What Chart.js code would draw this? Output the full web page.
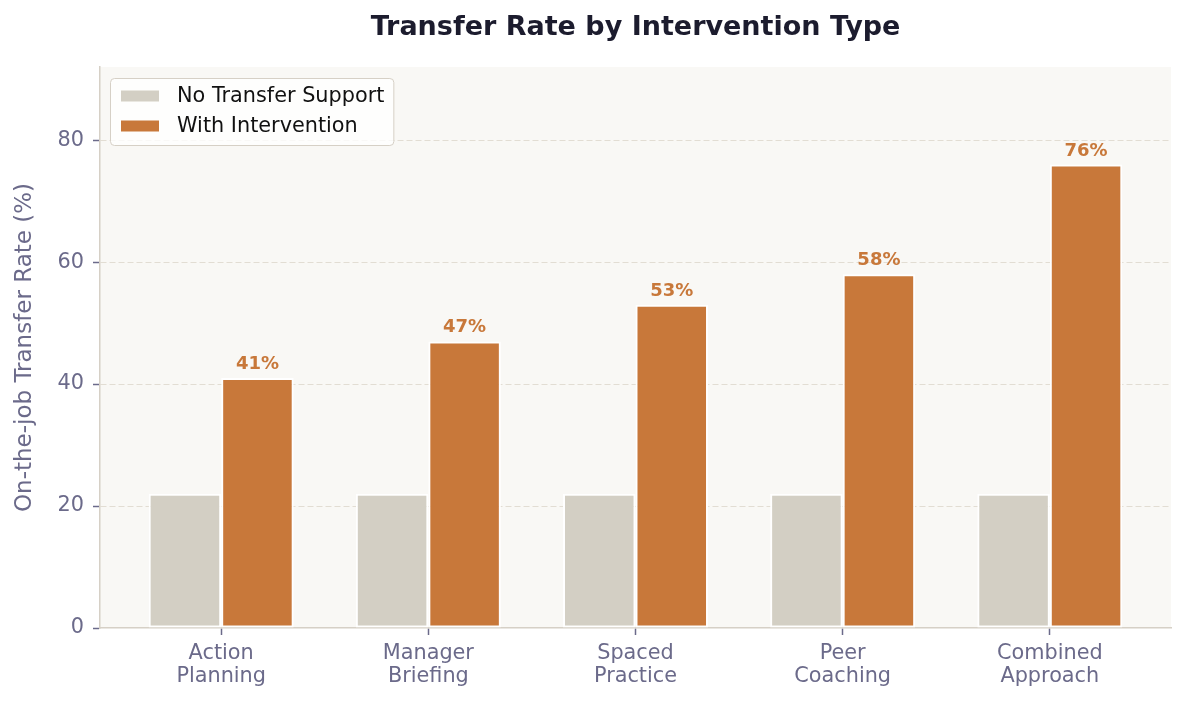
<!DOCTYPE html>
<html>
<head>
<meta charset="utf-8">
<title>Transfer Rate by Intervention Type</title>
<script src="https://cdn.jsdelivr.net/npm/chart.js@4"></script>
<style>
  body { margin: 0; background: #ffffff; }
  #chart { display: block; }
</style>
</head>
<body>
<canvas id="chart" width="1185" height="701"></canvas>
<script>
// data
var categories = [["Action", "Planning"], ["Manager", "Briefing"], ["Spaced", "Practice"], ["Peer", "Coaching"], ["Combined", "Approach"]];
var baseline = [22, 22, 22, 22, 22];
var intervention = [41, 47, 53, 58, 76];
var yTicks = [0, 20, 40, 60, 80];

var FONT = "'DejaVu Sans', sans-serif";
var TEXT = "#6b6a8a";
var SPINE = "#d6d0c6";
var GRAY = "#d3cfc4";
var ORANGE = "#c8783a";
var TITLE = "Transfer Rate by Intervention Type";

function points(arr) {
    return arr.map(function(v, i) { return { x: i, y: v }; });
}

// plot background + title centred over the plot
var bgPlugin = {
    id: "plotBg",
    beforeDraw: function(chart) {
        var a = chart.chartArea;
        var ctx = chart.ctx;
        ctx.save();
        ctx.fillStyle = "#f9f8f5";
        ctx.fillRect(a.left, a.top, a.right - a.left, a.bottom - a.top);
        ctx.font = "bold 27px " + FONT;
        ctx.fillStyle = "#1c1c2e";
        ctx.textAlign = "center";
        ctx.textBaseline = "middle";
        ctx.fillText(TITLE, (a.left + a.right) / 2, 27.5);
        ctx.restore();
    }
};

// value labels above the orange bars
var valueLabels = {
    id: "valueLabels",
    afterDatasetsDraw: function(chart) {
        var ctx = chart.ctx;
        var meta = chart.getDatasetMeta(1);
        ctx.save();
        ctx.font = "bold 18px " + FONT;
        ctx.fillStyle = ORANGE;
        ctx.textAlign = "center";
        ctx.textBaseline = "alphabetic";
        meta.data.forEach(function(bar, i) {
            ctx.fillText(intervention[i] + "%", bar.x, bar.y - 9);
        });
        ctx.restore();
    }
};

// legend boxed inside the plot, upper left
var insideLegend = {
    id: "insideLegend",
    afterDraw: function(chart) {
        var ctx = chart.ctx;
        var a = chart.chartArea;
        var x = a.left + 10, y = a.top + 11;
        ctx.save();
        ctx.font = "20.8px " + FONT;
        var w = 0;
        chart.data.datasets.forEach(function(ds) {
            w = Math.max(w, ctx.measureText(ds.label).width);
        });
        var bw = w + 67 + 9, bh = 67;
        ctx.beginPath();
        ctx.roundRect(x + 0.5, y + 0.5, bw, bh, 4);
        ctx.fillStyle = "rgba(255,255,255,0.8)";
        ctx.fill();
        ctx.strokeStyle = "#d6d0c6";
        ctx.lineWidth = 1;
        ctx.stroke();
        ctx.textBaseline = "middle";
        chart.data.datasets.forEach(function(ds, i) {
            var cy = y + 18 + i * 30;
            ctx.fillStyle = ds.backgroundColor;
            ctx.fillRect(x + 11, cy - 5.5, 38, 11);
            ctx.fillStyle = "#111111";
            ctx.fillText(ds.label, x + 67, cy + 1);
        });
        ctx.restore();
    }
};

var ctx = document.getElementById("chart").getContext("2d");
var chart = new Chart(ctx, {
    type: "bar",
    data: {
        datasets: [
            {
                label: "No Transfer Support",
                data: points(baseline),
                backgroundColor: GRAY,
                borderColor: "#ffffff",
                borderWidth: 2,
                borderSkipped: false
            },
            {
                label: "With Intervention",
                data: points(intervention),
                backgroundColor: ORANGE,
                borderColor: "#ffffff",
                borderWidth: 2,
                borderSkipped: false
            }
        ]
    },
    options: {
        responsive: false,
        animation: false,
        devicePixelRatio: 1,
        categoryPercentage: 0.7,
        barPercentage: 1.0,
        layout: { padding: { left: 0, right: 14, top: 67, bottom: 0 } },
        plugins: {
            legend: { display: false },
            tooltip: { enabled: false },
            title: { display: false }
        },
        scales: {
            x: {
                type: "linear",
                min: -0.585,
                max: 4.585,
                offset: false,
                afterBuildTicks: function(axis) {
                    axis.ticks = categories.map(function(c, i) { return { value: i }; });
                },
                afterFit: function(scale) { scale.height = 73; },
                grid: {
                    offset: false,
                    drawOnChartArea: false,
                    drawTicks: true,
                    tickLength: 7,
                    tickColor: TEXT,
                    tickWidth: 1.5
                },
                border: { display: true, color: SPINE, width: 1.5 },
                ticks: {
                    autoSkip: false,
                    maxRotation: 0,
                    padding: 7,
                    color: TEXT,
                    font: { family: FONT, size: 20.8, lineHeight: 1.1 },
                    callback: function(value) { return categories[value]; }
                }
            },
            y: {
                min: 0,
                max: 92,
                afterBuildTicks: function(axis) {
                    axis.ticks = yTicks.map(function(v) { return { value: v }; });
                },
                afterFit: function(scale) { scale.width = 100; },
                grid: {
                    color: function(c) { return c.tick && c.tick.value === 0 ? "rgba(0,0,0,0)" : "#e2ddd3"; },
                    lineWidth: 1,
                    drawTicks: true,
                    tickLength: 7,
                    tickColor: TEXT,
                    tickWidth: 1.5
                },
                border: { display: true, color: SPINE, width: 1.5, dash: [6, 3] },
                ticks: {
                    padding: 9,
                    color: TEXT,
                    font: { family: FONT, size: 20.8 }
                },
                title: {
                    display: true,
                    text: "On-the-job Transfer Rate (%)",
                    color: TEXT,
                    font: { family: FONT, size: 23 },
                    padding: { top: 11, bottom: 0 }
                }
            }
        }
    },
    plugins: [bgPlugin, valueLabels, insideLegend]
});
</script>
</body>
</html>
